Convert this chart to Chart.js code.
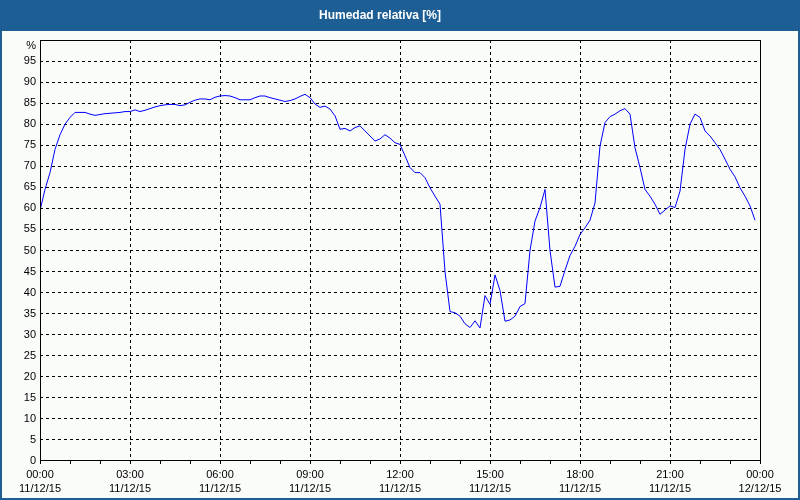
<!DOCTYPE html>
<html><head><meta charset="utf-8">
<script src="https://cdn.jsdelivr.net/npm/chart.js@4/dist/chart.umd.min.js"></script>
<style>html,body{margin:0;padding:0;background:#fafcfa}#wrap{width:800px;height:500px;position:relative}</style>
</head><body><div id="wrap"><canvas id="c" width="800" height="500"></canvas></div>
<script>
const titleText = 'Humedad relativa [%]';
const yUnit = '%';
const sampleStepMinutes = 10;
const humidity = [
  59.5, 64.5, 68.5, 74.0, 77.5, 80.0, 81.6, 82.8, 82.8, 82.8,
  82.4, 82.1, 82.3, 82.5, 82.6, 82.7, 82.8, 83.0, 83.0, 83.4,
  83.0, 83.3, 83.7, 84.1, 84.4, 84.6, 84.7, 84.7, 84.4, 84.6,
  85.2, 85.7, 86.0, 86.0, 85.8, 86.4, 86.7, 86.8, 86.7, 86.3,
  85.8, 85.8, 85.8, 86.3, 86.7, 86.7, 86.3, 86.0, 85.7, 85.4,
  85.6, 86.0, 86.6, 87.1, 86.3, 84.8, 84.0, 84.3, 83.6, 82.0,
  78.8, 79.0, 78.4, 79.2, 79.6, 78.4, 77.2, 76.0, 76.5, 77.5,
  76.7, 75.6, 75.2, 72.5, 69.7, 68.5, 68.5, 67.3, 64.9, 62.9,
  61.0, 45.0, 35.5, 35.2, 34.4, 32.6, 31.7, 33.3, 31.6, 39.3,
  37.2, 44.2, 40.5, 33.2, 33.5, 34.4, 36.7, 37.4, 50.0, 57.0,
  60.2, 64.5, 50.0, 41.3, 41.5, 45.3, 48.8, 51.0, 53.8, 55.4,
  57.2, 61.3, 74.8, 80.4, 81.8, 82.4, 83.2, 83.7, 82.4, 74.4,
  69.7, 64.5, 62.9, 61.0, 58.6, 59.6, 60.6, 60.2, 64.1, 74.0,
  80.0, 82.4, 81.6, 78.4, 77.2, 75.6, 74.0, 71.7, 69.3, 67.5,
  64.9, 62.9, 60.6, 57.2
];
const tickTimes = ['00:00','03:00','06:00','09:00','12:00','15:00','18:00','21:00','00:00'];
const tickDates = ['11/12/15','11/12/15','11/12/15','11/12/15','11/12/15','11/12/15','11/12/15','11/12/15','12/12/15'];
const yTicks = [0,5,10,15,20,25,30,35,40,45,50,55,60,65,70,75,80,85,90,95,100];
const hourTicks = [0,60,120,180,240,300,360,420,480,540,600,660,720,780,840,900,960,1020,1080,1140,1200,1260,1320,1380,1440];

const points = humidity.map((v, i) => ({x: i * sampleStepMinutes, y: v}));
const BLUE = '#1d5f94';
const font11 = {family: 'Liberation Sans', size: 11, lineHeight: 1.36};

const framePlugin = {
  id: 'frame',
  beforeDraw(chart) {
    const ctx = chart.ctx;
    ctx.save();
    ctx.fillStyle = '#fafcfa';
    ctx.fillRect(0, 0, chart.width, chart.height);
    ctx.fillStyle = BLUE;
    ctx.fillRect(0, 0, chart.width, 31);
    ctx.restore();
  },
  afterDraw(chart) {
    const ctx = chart.ctx, a = chart.chartArea;
    ctx.save();
    ctx.strokeStyle = '#000';
    ctx.lineWidth = 1;
    const l = Math.round(a.left) + 0.5, t = Math.round(a.top) + 0.5;
    const r = Math.round(a.right) + 0.5, b = Math.round(a.bottom) - 0.5;
    ctx.strokeRect(l, t, r - l, b - t);
    // unit label of the y axis, just below the top edge
    ctx.fillStyle = '#000';
    ctx.font = '11px "Liberation Sans"';
    ctx.textAlign = 'right';
    ctx.textBaseline = 'middle';
    ctx.fillText(yUnit, a.left - 4, a.top + 6);
    ctx.strokeStyle = BLUE;
    ctx.lineWidth = 2;
    ctx.strokeRect(1, 1, chart.width - 2, chart.height - 2);
    ctx.restore();
  }
};

new Chart(document.getElementById('c'), {
  type: 'line',
  data: {
    datasets: [{
      data: points,
      borderColor: '#0000ff',
      borderWidth: 1,
      pointRadius: 0,
      tension: 0,
      fill: false
    }]
  },
  options: {
    responsive: false,
    animation: false,
    layout: {padding: {left: 0, right: 40, top: 0, bottom: 0}},
    plugins: {
      legend: {display: false},
      tooltip: {enabled: false},
      title: {
        display: true,
        text: titleText,
        color: '#ffffff',
        font: {family: 'Liberation Sans', size: 12, weight: 'bold', lineHeight: 1.2},
        padding: {top: 8, bottom: 17.6}
      }
    },
    scales: {
      x: {
        type: 'linear',
        min: 0, max: 1440,
        afterBuildTicks: s => { s.ticks = hourTicks.map(v => ({value: v})); },
        afterFit: s => { s.height = 39; },
        ticks: {
          autoSkip: false, maxRotation: 0, minRotation: 0,
          padding: 3, color: '#000', font: font11,
          callback: v => (v % 180 === 0) ? [tickTimes[v / 180], tickDates[v / 180]] : ''
        },
        grid: {
          color: c => (c.tick && c.tick.value % 180 === 0 && c.tick.value > 0 && c.tick.value < 1440) ? '#000' : 'rgba(0,0,0,0)',
          tickColor: '#000',
          tickLength: 3,
          lineWidth: 1,
          borderDash: [3, 3]
        },
        border: {display: false, dash: [3, 3]}
      },
      y: {
        min: 0, max: 100,
        afterBuildTicks: s => { s.ticks = yTicks.map(v => ({value: v})); },
        afterFit: s => { s.width = 40; },
        ticks: {
          padding: 4, color: '#000', font: font11,
          callback: v => v === 100 ? '' : String(v)
        },
        grid: {
          drawTicks: false,
          color: c => (c.tick && c.tick.value > 0 && c.tick.value < 100) ? '#000' : 'rgba(0,0,0,0)',
          lineWidth: 1,
          borderDash: [3, 3]
        },
        border: {display: false, dash: [3, 3]}
      }
    }
  },
  plugins: [framePlugin]
});
</script>
</body></html>
